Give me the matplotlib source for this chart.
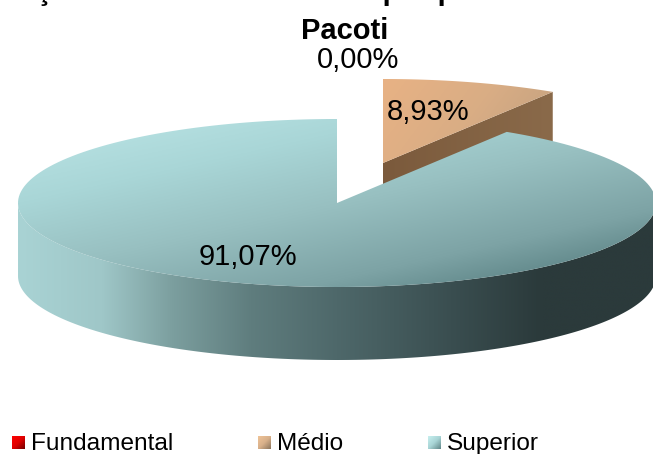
import numpy as np
import matplotlib
matplotlib.use("Agg")
import matplotlib.pyplot as plt
from matplotlib.colors import LinearSegmentedColormap
from matplotlib.patches import PathPatch
from matplotlib.path import Path

plt.rcParams['font.family'] = ['Liberation Sans', 'DejaVu Sans']

categories = ["Fundamental", "Médio", "Superior"]
values = [0.0, 8.93, 91.07]
labels = ["0,00%", "8,93%", "91,07%"]
title_lines = ["Formações docentes do Médio por professor de", "Pacoti"]


def ring(cx, cy, a0, a1, rx=319, ry=84, n=200):
    # angles in degrees, clockwise from 12 o'clock
    t = np.radians(np.linspace(a0, a1, n))
    return cx + rx * np.sin(t), cy - ry * np.cos(t)


def fill(ax, xs, ys, colors, angle=0.0, zorder=2):
    verts = np.column_stack([xs, ys])
    verts = np.vstack([verts, verts[0]])
    codes = [Path.MOVETO] + [Path.LINETO] * (len(verts) - 2) + [Path.CLOSEPOLY]
    patch = PathPatch(Path(verts, codes), fc="none", ec="none")
    ax.add_patch(patch)
    x0, x1, y0, y1 = xs.min(), xs.max(), ys.min(), ys.max()
    gx, gy = np.meshgrid(np.linspace(0, 1, 256), np.linspace(0, 1, 256))
    g = gx * np.cos(np.radians(angle)) + gy * np.sin(np.radians(angle))
    g = (g - g.min()) / (g.max() - g.min())
    cmap = LinearSegmentedColormap.from_list("g", colors)
    im = ax.imshow(g, cmap=cmap, extent=(x0, x1, y1, y0), aspect="auto",
                   interpolation="bilinear", zorder=zorder)
    im.set_clip_path(patch)


fig = plt.figure(figsize=(6.53, 4.54), dpi=100)
ax = fig.add_axes([0, 0, 1, 1])

# slices, clockwise from 12 o'clock
sweep = np.cumsum([0] + values) / sum(values) * 360
depth = 73
mid_cx, mid_cy = 383, 163
sup_cx, sup_cy = 337, 203

# Medio
a0, a1 = sweep[1], sweep[2]
ex, ey = ring(mid_cx, mid_cy, a1, a1, n=1)
fill(ax, np.array([mid_cx, ex[0], ex[0], mid_cx]),
     np.array([mid_cy, ey[0], ey[0] + depth, mid_cy + depth]),
     ["#7b5a3c", "#8a6a4a"], zorder=2)
xs, ys = ring(mid_cx, mid_cy, a0, a1)
fill(ax, np.r_[mid_cx, xs], np.r_[mid_cy, ys], ["#e8b284", "#d9ad85", "#bf9f7e"], angle=20, zorder=3)

# Superior wall then top
a0, a1 = sweep[2], sweep[3]
xs, ys = ring(sup_cx, sup_cy, 90, 270)
wall_ramp = [(0, "#a9d3d4"), (0.13, "#9fc7c8"), (0.24, "#7c9f9f"), (0.365, "#5f7d7e"),
             (0.5, "#4e686a"), (0.68, "#3a4e50"), (0.82, "#2b3a3b"), (1, "#2b3a3b")]
fill(ax, np.r_[xs, xs[::-1]], np.r_[ys, ys[::-1] + depth], wall_ramp, zorder=4)
xs, ys = ring(sup_cx, sup_cy, a0, a1)
top_ramp = [(0, "#bde6e7"), (0.27, "#a9d6d7"), (0.5, "#98c0c1"), (0.75, "#7da3a5"),
            (0.88, "#62898b"), (1, "#557779")]
fill(ax, np.r_[sup_cx, xs], np.r_[sup_cy, ys], top_ramp, angle=50, zorder=5)

# data labels
ax.text(358, 60, labels[0], fontsize=21, ha="center", va="center", zorder=7)
ax.text(428, 112, labels[1], fontsize=21, ha="center", va="center", zorder=7)
ax.text(248, 257, labels[2], fontsize=21, ha="center", va="center", zorder=7)

# title, first line runs off the top and left edges
ax.text(-53, -0.5, title_lines[0], fontsize=21, fontweight="bold", ha="left", va="baseline", zorder=7)
ax.text(345, 31, title_lines[1], fontsize=21, fontweight="bold", ha="center", va="center", zorder=7)

# legend
leg_x = [12, 258, 428]
leg_colors = [["#ff0000", "#e00000", "#700000"], ["#f0c498", "#d8b08a", "#8a745c"], ["#c8f0f0", "#a8d4d5", "#5f8587"]]
for x, name, cols in zip(leg_x, categories, leg_colors):
    xs = np.array([x, x + 13, x + 13, x])
    ys = np.array([436, 436, 449, 449])
    fill(ax, xs, ys, cols, angle=45, zorder=6)
    ax.text(x + 19, 450, name, fontsize=17.6, ha="left", va="baseline", zorder=7)

ax.set_xlim(0, 653)
ax.set_ylim(454, 0)
ax.axis("off")
fig.savefig("out.png", dpi=100)
